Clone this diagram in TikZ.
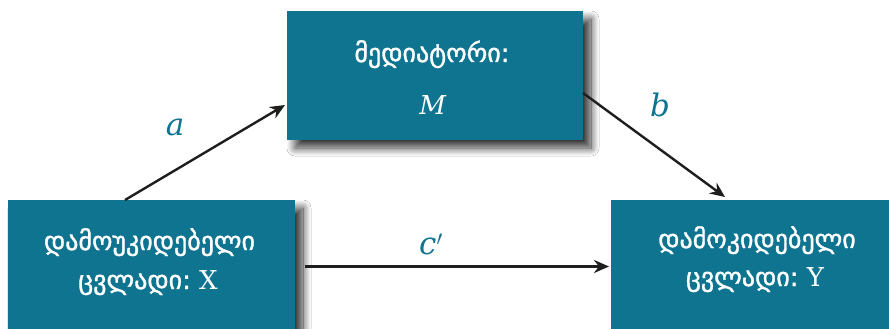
\documentclass[tikz,border=0pt]{standalone}
\usepackage{fontspec}
\setmainfont{DejaVu Serif}
\newfontfamily\geo[Script=Georgian,FakeBold=1.3]{DejaVu Sans}
\usetikzlibrary{shadows.blur,arrows.meta}
\definecolor{teal1}{RGB}{14,116,144}
\definecolor{arr}{RGB}{30,30,30}
\tikzset{
  box/.style={fill=teal1, draw=none, inner sep=0pt,
    blur shadow={shadow xshift=8pt, shadow yshift=-8pt, shadow blur radius=8pt, shadow blur steps=20, shadow opacity=80}},
  txt/.style={text=white, anchor=base, inner sep=0pt, font=\fontsize{26}{30}\selectfont},
  conn/.style={draw=arr, line width=2.4pt, -{Stealth[length=15pt,width=13pt]}},
  lab/.style={text=teal1, inner sep=0pt, font=\fontsize{31}{34}\selectfont\itshape}
}
\begin{document}
\begin{tikzpicture}[x=1pt,y=-1pt]
\useasboundingbox (0,0) rectangle (889,329);
\clip (0,0) rectangle (889,329);
\fill[white] (0,0) rectangle (889,329);
\node[box, minimum width=296pt, minimum height=129pt] (M) at (435,75.5) {};
\node[box, minimum width=287pt, minimum height=140pt] (X) at (151.5,270) {};
\node[box, minimum width=290pt, minimum height=140pt] (Y) at (756,270) {};
\node[txt] (M1) at (432,62) {\geo მედიატორი:};
\node[txt] (M2) at (433,114) {\textit{M}};
\node[txt] (X1) at (149.5,250) {\geo დამოუკიდებელი};
\node[txt] (X2) at (148,289) {\geo ცვლადი:\ \rmfamily X};
\node[txt] (Y1) at (757,248) {\geo დამოკიდებელი};
\node[txt] (Y2) at (755,286) {\geo ცვლადი:\ \rmfamily Y};
\coordinate (as) at (125,200);
\coordinate (ae) at (285,105);
\coordinate (bs) at (583,93);
\coordinate (be) at (725,197);
\coordinate (cs) at (305,266.5);
\coordinate (ce) at (609,266.5);
\draw[conn] (as) -- (ae);
\draw[conn] (bs) -- (be);
\draw[conn] (cs) -- (ce);
\node[lab] (la) at (175,127) {a};
\node[lab] (lb) at (660,105) {b};
\node[lab] (lc) at (431,244) {c$'$};
\end{tikzpicture}
\end{document}
